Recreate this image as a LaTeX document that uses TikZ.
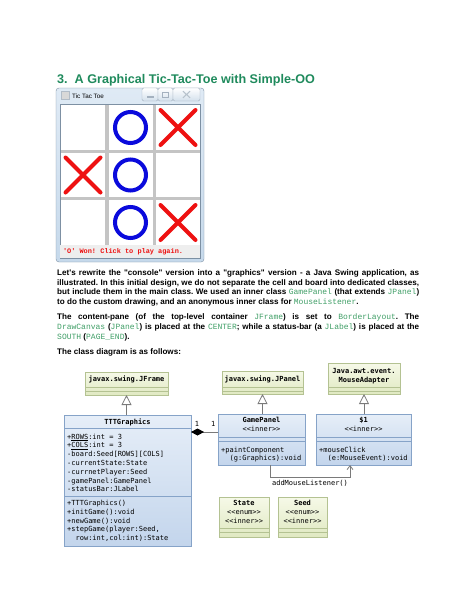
\documentclass[tikz,border=0pt]{standalone}
\usepackage{fontspec}
\setmainfont{Liberation Sans}[Ligatures=TeXOff]
\setmonofont{DejaVu Sans Mono}[Ligatures=TeXOff]
\newfontfamily\codefont{Liberation Mono}[Ligatures=TeXOff]
\usepackage{xcolor}
\usepackage{tikz}
\usetikzlibrary{positioning,arrows.meta,shapes.misc,shadows}
\definecolor{head}{HTML}{1F8A5C}
\definecolor{code}{HTML}{3F9E66}
\definecolor{frameb}{HTML}{7D90A3}
\definecolor{framet}{HTML}{DFEAF5}
\definecolor{framebot}{HTML}{C6D9EB}
\definecolor{btnbot}{HTML}{D3E0EC}
\definecolor{iconbg}{HTML}{D8D8D8}
\definecolor{gridgray}{HTML}{C4C4C4}
\definecolor{statusbg}{HTML}{EEEEEE}
\definecolor{xred}{HTML}{EE1111}
\definecolor{oblue}{HTML}{0A0ADC}
\definecolor{gtop}{HTML}{F6F9E8}
\definecolor{gbot}{HTML}{E0E9C2}
\definecolor{gline}{HTML}{B4C292}
\definecolor{btop}{HTML}{E6EEF8}
\definecolor{bbot}{HTML}{C3D5EC}
\definecolor{bline}{HTML}{86A3C8}
\definecolor{conn}{HTML}{7A7A7A}
\newcommand{\cw}[1]{{\codefont\mdseries\fontsize{8}{9.7}\selectfont\color{code}#1}}
\newcommand{\jline}[1]{\makebox[362pt][s]{#1}}
\newcommand{\umlfont}{\ttfamily\fontsize{7}{8.8}\selectfont}
\newcommand{\csep}[3]{\draw[#1] ([yshift=-#3pt]#2.north west) -- ([yshift=-#3pt]#2.north east);}
\frenchspacing

\begin{document}
\begin{tikzpicture}[x=1pt,y=-1pt,
  win/.style={draw=frameb,rounded corners=3pt,top color=framet,bottom color=framebot,inner sep=0pt,outer sep=0pt},
  wbtn/.style={draw=frameb!70,rounded corners=1.5pt,top color=white,bottom color=btnbot,
               minimum height=13pt,inner sep=0pt,outer sep=0pt},
  cell/.style={fill=white,minimum width=44pt,minimum height=44.5pt,inner sep=0pt,outer sep=0pt},
  omark/.style={circle,draw=oblue,line width=4pt,minimum size=31pt,inner sep=0pt},
  xmark/.style={cross out,draw=xred,line width=4pt,line cap=round,minimum size=31pt,inner sep=0pt},
  txt/.style={inner sep=0pt,anchor=base west,font=\fontsize{8.1}{9.7}\selectfont\bfseries},
  gcls/.style={draw=gline,top color=gtop,bottom color=gbot,inner sep=0pt,outer sep=0pt,
               drop shadow={shadow xshift=1.2pt,shadow yshift=-1.2pt,opacity=0.25}},
  bcls/.style={draw=bline,top color=btop,bottom color=bbot,inner sep=0pt,outer sep=0pt,
               drop shadow={shadow xshift=1.2pt,shadow yshift=-1.2pt,opacity=0.25}},
  cname/.style={font=\umlfont,inner sep=0pt,align=center},
  ctext/.style={font=\umlfont,inner sep=0pt,align=left,anchor=north west},
  lbl/.style={font=\umlfont,inner sep=0pt},
  gen/.style={draw=conn,line width=0.8pt,-{Triangle[open,length=10pt,width=10pt]}},
  comp/.style={draw=conn,line width=0.8pt,{Diamond[length=13pt,width=7pt,color=black]}-},
  dep/.style={draw=conn,line width=0.8pt,-{Straight Barb[length=4pt,width=6pt]}}]
  \useasboundingbox (0,0) rectangle (474,613);
  % heading
  \node[inner sep=0pt,anchor=base west,font=\fontsize{12.6}{15}\selectfont\bfseries,text=head] (title)
    at (57,83) {3.\ \ A Graphical Tic-Tac-Toe with Simple-OO};
  % window
  \node[win,minimum width=148pt,minimum height=174pt] (frame) at (130,175) {};
  \node[draw=frameb,fill=gridgray,minimum width=140pt,minimum height=154pt,inner sep=0pt] (client) at (130,181) {};
  \node[draw=frameb!60,fill=iconbg,minimum size=8pt,inner sep=0pt] (icon) at (65.5,95.5) {};
  \node[inner sep=0pt,anchor=west,font=\fontsize{6.3}{7}\selectfont] (wtitle) at (72,96) {Tic Tac Toe};
  \node[wbtn,minimum width=16pt] (bmin) at (150,94.5) {};
  \node[wbtn,minimum width=15pt,right=0pt of bmin] (bmax) {};
  \node[wbtn,minimum width=27pt,right=0pt of bmax] (bclose) {};
  \node[fill=frameb!70,minimum width=7pt,minimum height=2pt,inner sep=0pt] (smin) at ([yshift=-2pt]bmin.center) {};
  \node[draw=frameb!70,line width=0.8pt,minimum width=6pt,minimum height=5pt,inner sep=0pt] (smax) at (bmax) {};
  \node[cross out,draw=frameb!55,line width=1.1pt,minimum width=6pt,minimum height=5.5pt,inner sep=0pt] (sclose) at (bclose) {};
  % board
  \node[cell] (c11) at (83,127.5) {};
  \node[cell,right=3.5pt of c11] (c12) {};
  \node[cell,right=3.5pt of c12] (c13) {};
  \node[cell,below=3pt of c11] (c21) {};
  \node[cell,right=3.5pt of c21] (c22) {};
  \node[cell,right=3.5pt of c22] (c23) {};
  \node[cell,below=3pt of c21] (c31) {};
  \node[cell,right=3.5pt of c31] (c32) {};
  \node[cell,right=3.5pt of c32] (c33) {};
  \node[omark] (o12) at (c12) {};
  \node[xmark] (x13) at (c13) {};
  \node[xmark] (x21) at (c21) {};
  \node[omark] (o22) at (c22) {};
  \node[omark] (o32) at (c32) {};
  \node[xmark] (x33) at (c33) {};
  \node[fill=statusbg,minimum width=140pt,minimum height=12.5pt,inner sep=0pt] (status) at (130,251.5) {};
  \node[inner sep=0pt,anchor=west,font=\codefont\bfseries\fontsize{6.9}{8}\selectfont,text=xred] (msg)
    at ([xshift=3pt]status.west) {'O' Won! Click to play again.};
  % text
  \node[txt] (intro1) at (57,275.5) {\jline{Let's rewrite the "console" version into a "graphics" version - a Java Swing application, as}};
  \node[txt] (intro2) at (57,285.2) {\jline{illustrated. In this initial design, we do not separate the cell and board into dedicated classes,}};
  \node[txt] (intro3) at (57,294.9) {\jline{but include them in the main class. We used an inner class \cw{GamePanel} (that extends \cw{JPanel})}};
  \node[txt] (intro4) at (57,304.6) {to do the custom drawing, and an anonymous inner class for \cw{MouseListener}.};
  \node[txt] (pane1) at (57,319.6) {\jline{The content-pane (of the top-level container \cw{JFrame}) is set to \cw{BorderLayout}. The}};
  \node[txt] (pane2) at (57,329.3) {\jline{\cw{DrawCanvas} (\cw{JPanel}) is placed at the \cw{CENTER}; while a status-bar (a \cw{JLabel}) is placed at the}};
  \node[txt] (pane3) at (57,339) {\cw{SOUTH} (\cw{PAGE\_END}).};
  \node[txt] (cdtitle) at (57,354.5) {The class diagram is as follows:};
  % class diagram
  \node[gcls,minimum width=83pt,minimum height=23pt] (jframe) at (126.5,383.5) {};
  \node[cname,font=\umlfont\bfseries] (jframename) at ([yshift=-7.5pt]jframe.north) {javax.swing.JFrame};
  \csep{gline}{jframe}{15} \csep{gline}{jframe}{19}
  \node[gcls,minimum width=81pt,minimum height=23pt] (jpanel) at (262.5,382.5) {};
  \node[cname,font=\umlfont\bfseries] (jpanelname) at ([yshift=-8pt]jpanel.north) {javax.swing.JPanel};
  \csep{gline}{jpanel}{16} \csep{gline}{jpanel}{20}
  \node[gcls,minimum width=72pt,minimum height=31pt] (adapter) at (364,378.5) {};
  \node[cname,font=\umlfont\bfseries] (adaptername) at ([yshift=-13pt]adapter.north) {Java.awt.event.\\MouseAdapter};
  \csep{gline}{adapter}{24} \csep{gline}{adapter}{28}
  \node[bcls,minimum width=127pt,minimum height=131pt] (ttt) at (127.5,480.5) {};
  \node[cname,font=\umlfont\bfseries] (tttname) at ([yshift=-7pt]ttt.north) {TTTGraphics};
  \csep{bline}{ttt}{13} \csep{bline}{ttt}{81}
  \node[ctext] (tttattr) at ([xshift=3pt,yshift=-18.5pt]ttt.north west)
    {+\underline{ROWS}:int = 3\\+\underline{COLS}:int = 3\\-board:Seed[ROWS][COLS]\\-currentState:State\\
     -currnetPlayer:Seed\\-gamePanel:GamePanel\\-statusBar:JLabel};
  \node[ctext] (tttops) at ([xshift=3pt,yshift=-85pt]ttt.north west)
    {+TTTGraphics()\\+initGame():void\\+newGame():void\\+stepGame(player:Seed,\\~~row:int,col:int):State};
  \node[bcls,minimum width=87pt,minimum height=51pt] (gp) at (261.5,439.5) {};
  \node[cname] (gpname) at ([yshift=-10.5pt]gp.north) {\textbf{GamePanel}\\<<inner>>};
  \csep{bline}{gp}{23} \csep{bline}{gp}{27}
  \node[ctext] (gpops) at ([xshift=3pt,yshift=-32.5pt]gp.north west) {+paintComponent\\~~(g:Graphics):void};
  \node[bcls,minimum width=95pt,minimum height=51pt] (d1) at (363.5,439.5) {};
  \node[cname] (d1name) at ([yshift=-10.5pt]d1.north) {\textbf{\$1}\\<<inner>>};
  \csep{bline}{d1}{23} \csep{bline}{d1}{27}
  \node[ctext] (d1ops) at ([xshift=3pt,yshift=-32.5pt]d1.north west) {+mouseClick\\~~(e:MouseEvent):void};
  \node[gcls,minimum width=50pt,minimum height=40pt] (state) at (244,517) {};
  \node[cname] (statename) at ([yshift=-15pt]state.north) {\textbf{State}\\<<enum>>\\<<inner>>};
  \csep{gline}{state}{31} \csep{gline}{state}{35}
  \node[gcls,minimum width=49pt,minimum height=40pt] (seed) at (302.5,517) {};
  \node[cname] (seedname) at ([yshift=-15pt]seed.north) {\textbf{Seed}\\<<enum>>\\<<inner>>};
  \csep{gline}{seed}{31} \csep{gline}{seed}{35}
  % relations
  \draw[gen] (jframe.south |- ttt.north) -- (jframe.south);
  \draw[gen] (jpanel.south |- gp.north) -- (jpanel.south);
  \draw[gen] (adapter.south |- d1.north) -- (adapter.south);
  \draw[comp] ([yshift=-17pt]ttt.north east) -- ([yshift=-18pt]gp.north west)
    node[lbl,above=5pt,pos=0.22] {1} node[lbl,above=5pt,pos=0.82] {1};
  \draw[dep] ([xshift=8.5pt]gp.south) -- ++(0,12) -| node[lbl,below=2.5pt,pos=0.25] {addMouseListener()} ([xshift=-13.5pt]d1.south);
\end{tikzpicture}
\end{document}
